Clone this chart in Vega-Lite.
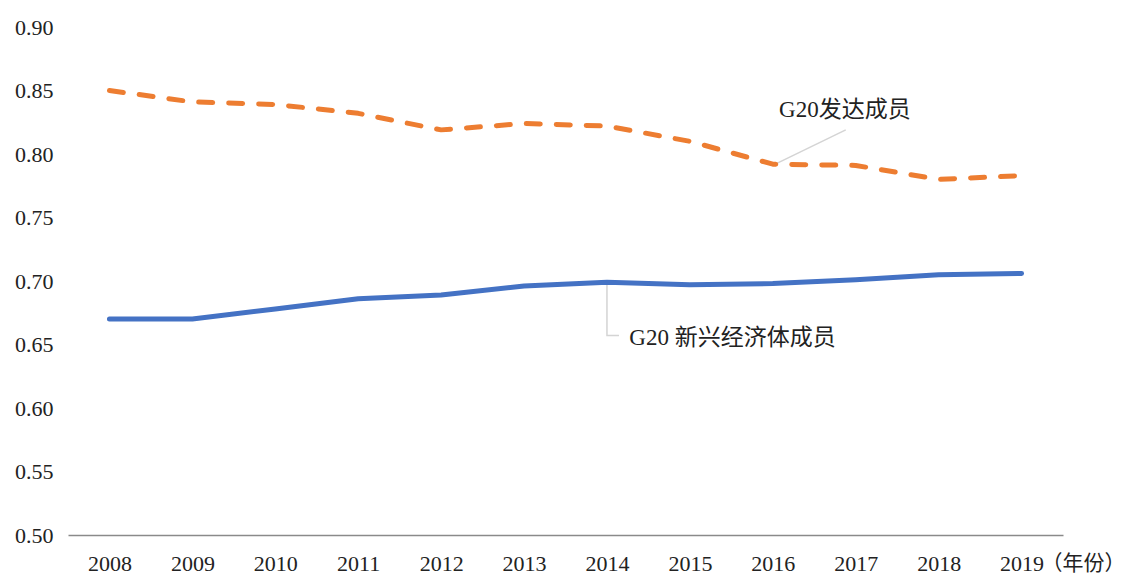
{
  "$schema": "https://vega.github.io/schema/vega-lite/v6.json",
  "width": 995,
  "height": 508,
  "autosize": {"type": "none"},
  "padding": {"left": 68, "top": 27, "right": 78, "bottom": 41},
  "background": "white",
  "config": {
    "view": {"stroke": null},
    "font": "Liberation Serif, Noto Sans CJK SC",
    "axis": {"grid": false, "ticks": false, "labelFont": "Liberation Serif", "labelFontSize": 22, "labelColor": "#222222"}
  },
  "datasets": {
    "series": [
      {"year": 2008, "value": 0.850, "group": "G20发达成员"},
      {"year": 2009, "value": 0.841, "group": "G20发达成员"},
      {"year": 2010, "value": 0.839, "group": "G20发达成员"},
      {"year": 2011, "value": 0.832, "group": "G20发达成员"},
      {"year": 2012, "value": 0.819, "group": "G20发达成员"},
      {"year": 2013, "value": 0.824, "group": "G20发达成员"},
      {"year": 2014, "value": 0.822, "group": "G20发达成员"},
      {"year": 2015, "value": 0.810, "group": "G20发达成员"},
      {"year": 2016, "value": 0.792, "group": "G20发达成员"},
      {"year": 2017, "value": 0.791, "group": "G20发达成员"},
      {"year": 2018, "value": 0.780, "group": "G20发达成员"},
      {"year": 2019, "value": 0.783, "group": "G20发达成员"},
      {"year": 2008, "value": 0.670, "group": "G20 新兴经济体成员"},
      {"year": 2009, "value": 0.670, "group": "G20 新兴经济体成员"},
      {"year": 2010, "value": 0.678, "group": "G20 新兴经济体成员"},
      {"year": 2011, "value": 0.686, "group": "G20 新兴经济体成员"},
      {"year": 2012, "value": 0.689, "group": "G20 新兴经济体成员"},
      {"year": 2013, "value": 0.696, "group": "G20 新兴经济体成员"},
      {"year": 2014, "value": 0.699, "group": "G20 新兴经济体成员"},
      {"year": 2015, "value": 0.697, "group": "G20 新兴经济体成员"},
      {"year": 2016, "value": 0.698, "group": "G20 新兴经济体成员"},
      {"year": 2017, "value": 0.701, "group": "G20 新兴经济体成员"},
      {"year": 2018, "value": 0.705, "group": "G20 新兴经济体成员"},
      {"year": 2019, "value": 0.706, "group": "G20 新兴经济体成员"}
    ],
    "leaders": [
      {"id": "a", "order": 1, "year": 2016.03, "value": 0.792},
      {"id": "a", "order": 2, "year": 2016.88, "value": 0.819},
      {"id": "b", "order": 1, "year": 2014.0, "value": 0.699},
      {"id": "b", "order": 2, "year": 2014.0, "value": 0.657},
      {"id": "b", "order": 3, "year": 2014.145, "value": 0.657}
    ],
    "labels": [
      {"year": 2016.87, "value": 0.835, "text": "G20发达成员", "align": "center"},
      {"year": 2014.27, "value": 0.655, "text": "G20 新兴经济体成员", "align": "left"}
    ]
  },
  "encoding": {
    "x": {"field": "year", "type": "quantitative", "scale": {"domain": [2007.5, 2019.5], "nice": false, "zero": false},
      "axis": {"values": [2008, 2009, 2010, 2011, 2012, 2013, 2014, 2015, 2016, 2017, 2018, 2019], "format": "d", "labelFont": "Liberation Serif", "labelFontSize": 22, "labelPadding": 18, "domainColor": "#8a8a8a", "domainWidth": 1.5,
        "title": "（年份）", "titleFont": "Noto Sans CJK SC", "titleFontSize": 21, "titleFontWeight": "normal", "titleColor": "#222222", "titleAlign": "left", "titleAnchor": "start", "titleX": 973, "titleY": 34, "titleBaseline": "alphabetic"}},
    "y": {"field": "value", "type": "quantitative", "scale": {"domain": [0.5, 0.9], "nice": false, "zero": false},
      "axis": {"values": [0.5, 0.55, 0.6, 0.65, 0.7, 0.75, 0.8, 0.85, 0.9], "format": ".2f", "labelFont": "Liberation Serif", "labelFontSize": 22, "domain": false, "labelPadding": 15, "title": null}}
  },
  "layer": [
    {
      "data": {"name": "leaders"},
      "mark": {"type": "line", "color": "#d4d4d4", "strokeWidth": 1.5},
      "encoding": {
        "detail": {"field": "id"},
        "order": {"field": "order"}
      }
    },
    {
      "data": {"name": "series"},
      "transform": [{"filter": "datum.group === 'G20 新兴经济体成员'"}],
      "mark": {"type": "line", "color": "#4472c4", "strokeWidth": 5, "strokeCap": "round", "strokeJoin": "round"},
      "encoding": {}
    },
    {
      "data": {"name": "series"},
      "transform": [{"filter": "datum.group === 'G20发达成员'"}],
      "mark": {"type": "line", "color": "#ed7d31", "strokeWidth": 5, "strokeCap": "round", "strokeJoin": "round", "strokeDash": [14, 16]},
      "encoding": {}
    },
    {
      "data": {"name": "labels"},
      "transform": [{"filter": "datum.align === 'center'"}],
      "mark": {"type": "text", "align": "center", "baseline": "middle", "fontSize": 23, "color": "#222222", "font": "Liberation Serif, Noto Sans CJK SC"},
      "encoding": {"text": {"field": "text"}}
    },
    {
      "data": {"name": "labels"},
      "transform": [{"filter": "datum.align === 'left'"}],
      "mark": {"type": "text", "align": "left", "baseline": "middle", "fontSize": 23, "color": "#222222", "font": "Liberation Serif, Noto Sans CJK SC"},
      "encoding": {"text": {"field": "text"}}
    }
  ]
}
